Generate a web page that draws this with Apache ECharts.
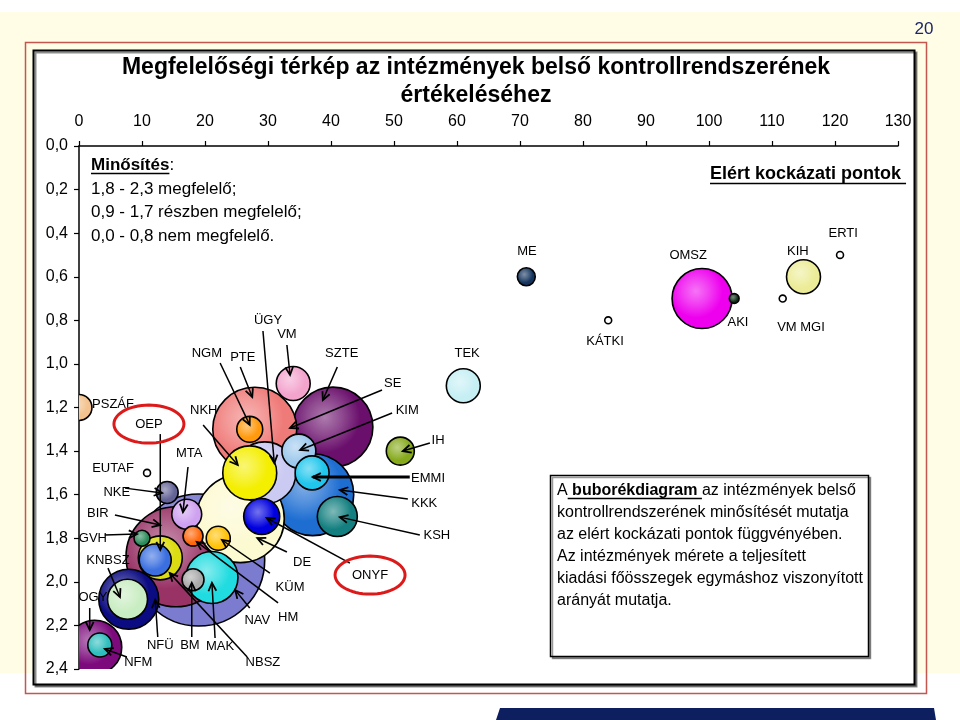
<!DOCTYPE html>
<html>
<head>
<meta charset="utf-8">
<script src="https://cdn.jsdelivr.net/npm/echarts@6/dist/echarts.min.js"></script>
<style>
  html, body { margin: 0; padding: 0; background: #fff; }
  #chart { width: 960px; height: 720px; }
</style>
</head>
<body>
<div id="chart"></div>
<script>
const FONT = '"Liberation Sans", Arial, sans-serif'

// bubbles, in drawing order (back to front)
const names = ['NAV', 'BIR', 'SZTE', 'KKK', 'PTE', 'DE', 'ÜGY', 'OMSZ', 'NFÜ', 'OGY',
  'MAK', 'NKH', 'NBSZ', 'KSH', 'KNBSZ', 'ONYF', 'KIM', 'EMMI', 'VM', 'TEK',
  'KIH', 'IH', 'NGM', 'MTA', 'OEP', 'PSZÁF', 'KÜM', 'NFM', 'BM', 'NKE',
  'HM', 'GVH', 'ME', 'AKI', 'EUTAF', 'KÁTKI', 'VM MGI', 'ERTI']
// elért kockázati pontok
const riskPoints = [19.0, 15.4, 40.3, 37.1, 27.9, 25.6, 29.5, 98.9, 7.9, 2.5,
  21.1, 27.1, 12.9, 41.0, 7.7, 29.0, 34.9, 37.0, 34.0, 61.0,
  115.0, 51.0, 27.1, 17.1, 12.1, 0.0, 22.1, 3.3, 18.1, 14.0,
  18.1, 10.0, 71.0, 104.0, 10.8, 84.0, 111.7, 120.8]
// minősítés
const ratings = [1.90, 1.885, 1.29, 1.60, 1.30, 1.71, 1.50, 0.70, 2.08, 2.30,
  1.98, 1.50, 1.89, 1.70, 2.08, 1.70, 1.40, 1.50, 1.09, 1.10,
  0.60, 1.40, 1.30, 1.69, 1.90, 1.20, 1.80, 2.29, 1.99, 1.59,
  1.79, 1.80, 0.60, 0.70, 1.50, 0.80, 0.70, 0.50]
// teljesített kiadási főösszeg (relatív)
const spending = [1089, 625, 400, 420, 441, 484, 240, 225, 225, 182,
  169, 182, 121, 100, 100, 81, 72, 72, 72, 72,
  72, 49, 42, 56, 64, 42, 36, 36, 30, 30,
  25, 16, 20, 6, 3, 3, 3, 3]
const colors = ['#7b7bd0', '#993366', '#6a0f6c', '#1e6ed2', '#ef7b79', '#fcfad0', '#cacaf3', '#ee00ee', '#0b0b82', '#7c0a7c',
  '#20dce0', '#f4ee00', '#dcdc12', '#147f80', '#c9edc2', '#0000df', '#9ec9ec', '#20c6ec', '#f3a4cd', '#c6eff4',
  '#ecec98', '#86aa1c', '#ff9a0e', '#cea2f0', '#3b6fe0', '#f3c28e', '#ffc30a', '#2fbdbd', '#a9a9a9', '#636396',
  '#ff680a', '#2b8b5b', '#14345e', '#0a2a12', null, null, null, null]

// name labels: [text, x, y, arrow from x, y, arrow to x, y] in data units
const labels = [
  ['PSZÁF', 5.4, 1.184],
  ['OEP', 11.1, 1.276, 12.9, 1.322, 12.9, 1.854],
  ['NKH', 19.8, 1.212, 19.7, 1.280, 25.2, 1.464],
  ['MTA', 17.5, 1.413, 17.3, 1.473, 16.5, 1.680],
  ['EUTAF', 5.4, 1.478],
  ['NKE', 6.0, 1.588, 7.3, 1.570, 13.2, 1.592],
  ['BIR', 3.0, 1.684, 5.7, 1.693, 12.9, 1.739],
  ['GVH', 2.2, 1.799, 4.1, 1.785, 9.2, 1.781],
  ['KNBSZ', 4.6, 1.900, 4.6, 1.937, 6.5, 2.070],
  ['OGY', 2.2, 2.070, 1.7, 2.120, 1.7, 2.221],
  ['NFÜ', 12.9, 2.290, 12.5, 2.253, 12.1, 2.083],
  ['BM', 17.6, 2.290, 17.9, 2.253, 17.9, 2.005],
  ['MAK', 22.4, 2.295, 21.6, 2.258, 21.1, 2.005],
  ['NFM', 9.4, 2.368, 7.6, 2.345, 4.1, 2.308],
  ['NBSZ', 29.2, 2.368, 26.7, 2.345, 14.4, 1.960],
  ['NAV', 28.3, 2.175, 27.1, 2.120, 24.8, 2.038],
  ['HM', 33.2, 2.162, 31.6, 2.097, 18.7, 1.817],
  ['KÜM', 33.5, 2.024, 30.3, 1.960, 22.7, 1.808],
  ['DE', 35.4, 1.909, 33.0, 1.863, 28.3, 1.799],
  ['ONYF', 46.2, 1.969, 43.0, 1.914, 29.8, 1.707],
  ['ÜGY', 30.0, 0.799, 29.2, 0.849, 31.0, 1.455],
  ['VM', 33.0, 0.863, 33.0, 0.913, 33.5, 1.051],
  ['NGM', 20.3, 0.950, 22.4, 0.996, 27.1, 1.280],
  ['PTE', 26.0, 0.968, 25.6, 1.014, 27.5, 1.152],
  ['SZTE', 41.7, 0.950, 41.0, 1.014, 38.7, 1.166],
  ['SE', 49.8, 1.088, 48.1, 1.120, 33.5, 1.294],
  ['KIM', 52.1, 1.212, 49.7, 1.225, 35.1, 1.395],
  ['IH', 57.0, 1.349, 55.7, 1.363, 51.4, 1.400],
  ['EMMI', 55.4, 1.524, 52.5, 1.519, 37.1, 1.519],
  ['KKK', 54.8, 1.638, 52.2, 1.620, 41.4, 1.579],
  ['KSH', 56.8, 1.785, 54.1, 1.785, 41.4, 1.703],
  ['TEK', 61.6, 0.950],
  ['ME', 71.1, 0.486],
  ['OMSZ', 96.7, 0.500],
  ['KIH', 114.1, 0.486],
  ['ERTI', 121.3, 0.399],
  ['AKI', 104.6, 0.808],
  ['VM MGI', 114.6, 0.831],
  ['KÁTKI', 83.5, 0.895],
]
const ringed = ['OEP', 'ONYF']
const thickArrows = ['EMMI']

const titleLines = ['Megfelelőségi térkép az intézmények belső kontrollrendszerének', 'értékeléséhez']
const ratingNotes = ['1,8 - 2,3 megfelelő;', '0,9 - 1,7 részben megfelelő;', '0,0 - 0,8 nem megfelelő.']
const boxLines = [
  'kontrollrendszerének minősítését mutatja',
  'az elért kockázati pontok függvényében.',
  'Az intézmények mérete a teljesített',
  'kiadási főösszegek egymáshoz viszonyított',
  'arányát mutatja.',
]

const ctx = document.createElement('canvas').getContext('2d')
const textWidth = (s, font) => {
  ctx.font = font
  return ctx.measureText(s).width
}

const mix = (hex, t) => {
  const n = parseInt(hex.slice(1), 16)
  const f = (c) => Math.round(c + (255 - c) * t)
  return `rgb(${f(n >> 16)},${f((n >> 8) & 255)},${f(n & 255)})`
}
const bubbleFill = (hex) => ({
  type: 'radial', x: 0.4, y: 0.38, r: 0.62,
  colorStops: [
    { offset: 0, color: mix(hex, 0.45) },
    { offset: 0.35, color: mix(hex, 0.24) },
    { offset: 0.7, color: hex },
    { offset: 1, color: hex },
  ],
})

const bubbleItem = (params, api) => {
  const i = api.value(3)
  const [cx, cy] = api.coord([api.value(0), api.value(1)])
  const r = 2 * Math.sqrt(api.value(2))
  return {
    type: 'circle',
    shape: { cx, cy, r },
    style: {
      fill: colors[i] ? bubbleFill(colors[i]) : '#fff',
      stroke: '#000',
      lineWidth: 1.6,
    },
  }
}

const noteItem = (params, api) => {
  const [text, lx, ly, x0, y0, x1, y1] = labels[params.dataIndex]
  const [px, py] = api.coord([lx, ly])
  const children = [{
    type: 'text', x: px, y: py,
    style: { text, fill: '#000', font: `13px ${FONT}`, align: 'center', verticalAlign: 'middle', textAlign: 'center', textVerticalAlign: 'middle' },
  }]
  if (x0 != null) {
    const a = api.coord([x0, y0])
    const b = api.coord([x1, y1])
    const ang = Math.atan2(b[1] - a[1], b[0] - a[0])
    const h = 9
    const head = [-0.45, 0.45].map((d) => [b[0] - h * Math.cos(ang + d), b[1] - h * Math.sin(ang + d)])
    children.push({
      type: 'line',
      shape: { x1: a[0], y1: a[1], x2: b[0], y2: b[1] },
      style: { stroke: '#000', lineWidth: thickArrows.includes(text) ? 3.2 : 1.5 },
    })
    children.push({
      type: 'polyline',
      shape: { points: [head[0], b, head[1]] },
      style: { stroke: '#000', lineWidth: 1.8, fill: null },
    })
  }
  if (ringed.includes(text)) {
    const pts = []
    for (let k = 0; k < 60; k++) {
      const t = (k / 60) * Math.PI * 2
      pts.push([px + 35 * Math.cos(t), py + 19 * Math.sin(t)])
    }
    children.push({ type: 'polygon', shape: { points: pts }, style: { stroke: '#dd1a1a', lineWidth: 3, fill: null } })
  }
  return { type: 'group', children }
}

const axisText = { color: '#000', fontSize: 16, fontFamily: FONT }
const fmtComma = (v) => v.toFixed(1).replace('.', ',')

const minoFont = `bold 17px ${FONT}`
const eltFont = `bold 18px ${FONT}`
const boxFont = `16px ${FONT}`
const boxBold = `bold 16px ${FONT}`
const aW = textWidth('A', boxFont)
const bubW = textWidth(' buborékdiagram ', boxBold)

const graphics = [
  { type: 'rect', z: -3, shape: { x: 0, y: 12, width: 960, height: 661 }, style: { fill: '#fffde5' } },
  { type: 'rect', z: -2, shape: { x: 25.5, y: 42.5, width: 901, height: 651 }, style: { fill: null, stroke: '#c4564f', lineWidth: 1.5 } },
  {
    type: 'rect', z: -1, shape: { x: 33.5, y: 50.5, width: 881, height: 634 },
    style: { fill: '#fff', stroke: '#000', lineWidth: 2, shadowColor: 'rgba(0,0,0,0.45)', shadowOffsetX: 2, shadowOffsetY: 2 },
  },
  { type: 'polygon', z: -1, shape: { points: [[500, 708], [934, 708], [936, 720], [496, 720]] }, style: { fill: '#0d1f5e' } },
  { type: 'text', x: 924, y: 29, style: { text: '20', font: `17px ${FONT}`, fill: '#1c2568', align: 'center', verticalAlign: 'middle', textAlign: 'center', textVerticalAlign: 'middle' } },
  ...titleLines.map((t, i) => ({
    type: 'text', x: 476, y: 68 + i * 28,
    style: { text: t, font: `bold 23px ${FONT}`, fill: '#000', align: 'center', verticalAlign: 'middle', textAlign: 'center', textVerticalAlign: 'middle' },
  })),
  // Minősítés block
  {
    type: 'text', x: 91, y: 165, z: 10,
    style: {
      text: '{b|Minősítés}{n|:}', verticalAlign: 'middle', textVerticalAlign: 'middle', fill: '#000',
      rich: { b: { font: minoFont, fill: '#000' }, n: { font: `17px ${FONT}`, fill: '#000' } },
    },
  },
  { type: 'line', z: 10, shape: { x1: 91, y1: 173.5, x2: 91 + textWidth('Minősítés', minoFont), y2: 173.5 }, style: { stroke: '#000', lineWidth: 1.3 } },
  ...ratingNotes.map((t, i) => ({
    type: 'text', x: 91, y: 189 + i * 23.5, z: 10,
    style: { text: t, font: `17px ${FONT}`, fill: '#000', verticalAlign: 'middle', textVerticalAlign: 'middle' },
  })),
  // axis title
  { type: 'text', x: 710, y: 174, z: 10, style: { text: 'Elért kockázati pontok', font: eltFont, fill: '#000', verticalAlign: 'middle', textVerticalAlign: 'middle' } },
  { type: 'line', z: 10, shape: { x1: 710, y1: 183.5, x2: 710 + textWidth('Elért kockázati pontok ', eltFont), y2: 183.5 }, style: { stroke: '#000', lineWidth: 1.3 } },
  // info box
  {
    type: 'rect', z: 10, shape: { x: 550.5, y: 475.5, width: 318, height: 181 },
    style: { fill: '#fff', stroke: '#000', lineWidth: 1.5, shadowColor: 'rgba(0,0,0,0.4)', shadowOffsetX: 2, shadowOffsetY: 2 },
  },
  {
    type: 'text', x: 557, y: 491, z: 11,
    style: {
      text: '{n|A}{b| buborékdiagram }{n|az intézmények belső}', verticalAlign: 'middle', textVerticalAlign: 'middle', fill: '#000',
      rich: { n: { font: boxFont, fill: '#000' }, b: { font: boxBold, fill: '#000' } },
    },
  },
  { type: 'line', z: 11, shape: { x1: 557 + aW, y1: 498.5, x2: 557 + aW + bubW, y2: 498.5 }, style: { stroke: '#000', lineWidth: 1.3 } },
  ...boxLines.map((t, i) => ({
    type: 'text', x: 557, y: 513 + i * 21.8, z: 11,
    style: { text: t, font: boxFont, fill: '#000', verticalAlign: 'middle', textVerticalAlign: 'middle' },
  })),
]

const chart = echarts.init(document.getElementById('chart'), null, { renderer: 'canvas' })
chart.setOption({
  animation: false,
  backgroundColor: '#fff',
  grid: { left: 79, top: 146, width: 819, height: 523 },
  xAxis: {
    type: 'value', position: 'top', min: 0, max: 130, interval: 10,
    axisLine: { lineStyle: { color: '#000', width: 1.5 } },
    axisTick: { show: true, length: 5, lineStyle: { color: '#000', width: 1.2 } },
    axisLabel: { ...axisText, margin: 16 },
    splitLine: { show: false },
  },
  yAxis: {
    type: 'value', inverse: true, min: 0, max: 2.4, interval: 0.2,
    axisLine: { show: true, lineStyle: { color: '#000', width: 1.5 } },
    axisTick: { show: true, length: 5, lineStyle: { color: '#000', width: 1.2 } },
    axisLabel: { ...axisText, margin: 11, formatter: fmtComma },
    splitLine: { show: false },
  },
  graphic: { elements: graphics },
  series: [
    {
      type: 'custom',
      clip: true,
      silent: true,
      renderItem: bubbleItem,
      encode: { x: 0, y: 1 },
      data: names.map((n, i) => [riskPoints[i], ratings[i], spending[i], i]),
      z: 3,
    },
    {
      type: 'custom',
      silent: true,
      renderItem: noteItem,
      encode: { x: 0, y: 1 },
      data: labels.map((l, i) => [l[1], l[2], i]),
      z: 5,
    },
  ],
})
</script>
</body>
</html>
